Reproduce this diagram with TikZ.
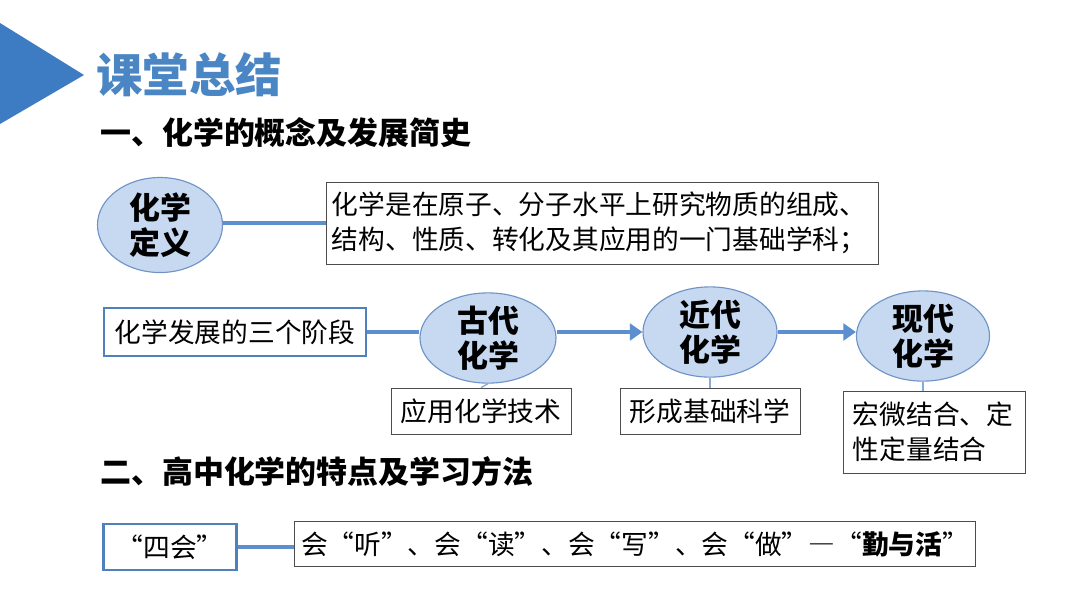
\documentclass[tikz,border=0pt]{standalone}
\usepackage{fontspec}
\setmainfont{Noto Sans CJK SC}
\newfontfamily\widefont{Noto Sans CJK SC}[CharacterWidth=Full]
\usetikzlibrary{arrows.meta,shapes.geometric}
\definecolor{titleblue}{HTML}{4A86C4}
\definecolor{darkblue}{HTML}{3D7CC3}
\definecolor{lineblue}{HTML}{5B8FD0}
\definecolor{ellfill}{HTML}{C6D9F1}
\definecolor{elldraw}{HTML}{6F93C6}
\definecolor{boxblue}{HTML}{4F81BD}
\definecolor{thinblue}{HTML}{85ABDB}
\begin{document}
\begin{tikzpicture}[x=0.025cm, y=-0.025cm,
  bubble/.style={ellipse, draw=elldraw, line width=0.8pt, fill=ellfill, inner sep=0pt, align=center, font=\fontsize{22}{24.5}\selectfont\bfseries},
  plainbox/.style={draw=black!70, line width=0.6pt, inner sep=0pt, font=\fontsize{19}{25}\selectfont},
  bluebox/.style={draw=boxblue, line width=2pt, inner sep=0pt, font=\fontsize{19}{25}\selectfont},
  heading/.style={anchor=west, inner sep=0pt, font=\fontsize{22}{26}\selectfont\bfseries},
  link/.style={draw=lineblue, line width=3.5pt},
  flow/.style={link, -{Triangle[length=9pt,width=12pt]}},
  stem/.style={draw=thinblue, line width=1pt}]
\useasboundingbox (0,0) rectangle (1080,608);
\fill[darkblue] (0,23) -- (84,75) -- (0,124) -- cycle;
\node[anchor=west, inner sep=0pt, text=titleblue, font=\fontsize{33}{36}\selectfont\bfseries] (title) at (96,75) {课堂总结};
\node[heading] (part1) at (100,133) {一、化学的概念及发展简史};

% definition
\node[bubble, minimum width=3.125cm, minimum height=2.375cm] (defn) at (160,225) {化学\\定义};
\node[plainbox, minimum width=13.8cm, minimum height=2.05cm, text width=13.5cm, align=left] (defbox) at (602,223) {化学是在原子、分子水平上研究物质的组成、\\结构、性质、转化及其应用的一门基础学科；};
\draw[link] (defn.east |- defbox) -- (defbox.west);

% three stages
\node[bluebox, minimum width=6.55cm, minimum height=1.2cm] (stages) at (235,332) {化学发展的三个阶段};
\node[bubble, minimum width=3.4cm, minimum height=2.0cm] (ancient) at (488,338) {古代\\化学};
\node[bubble, minimum width=3.35cm, minimum height=2.025cm] (modern) at (710,332) {近代\\化学};
\node[bubble, minimum width=3.325cm, minimum height=2.025cm] (current) at (923,336) {现代\\化学};
\node[plainbox, minimum width=4.5cm, minimum height=1.15cm] (tech) at (481,411) {应用化学技术};
\node[plainbox, minimum width=4.5cm, minimum height=1.15cm] (science) at (710,411) {形成基础科学};
\node[plainbox, minimum width=4.55cm, minimum height=2.05cm, text width=4.05cm, align=left] (combine) at (934,432) {宏微结合、定\\性定量结合};
\draw[link] (stages.east) -- (stages.east -| ancient.west);
\draw[flow] (ancient.east |- modern) -- (modern.west);
\draw[flow] (modern.east) -- (current.west |- modern);
\draw[stem] (ancient.south) -- (tech.north);
\draw[stem] (modern.south) -- (science.north);
\draw[stem] (current.south) -- (current.south |- combine.north);

% learning
\node[heading] (part2) at (100,472) {二、高中化学的特点及学习方法};
\node[bluebox, minimum width=3.325cm, minimum height=1.15cm, font=\fontsize{19}{25}\widefont] (four) at (170,547) {“四会”};
\node[plainbox, minimum width=17cm, minimum height=1.125cm, font=\fontsize{19}{25}\widefont] (learn) at (635,544) {会“听”、会“读”、会“写”、会“做”—“\textbf{勤与活}”};
\draw[link] (four.east) -- (four.east -| learn.west);
\end{tikzpicture}
\end{document}
